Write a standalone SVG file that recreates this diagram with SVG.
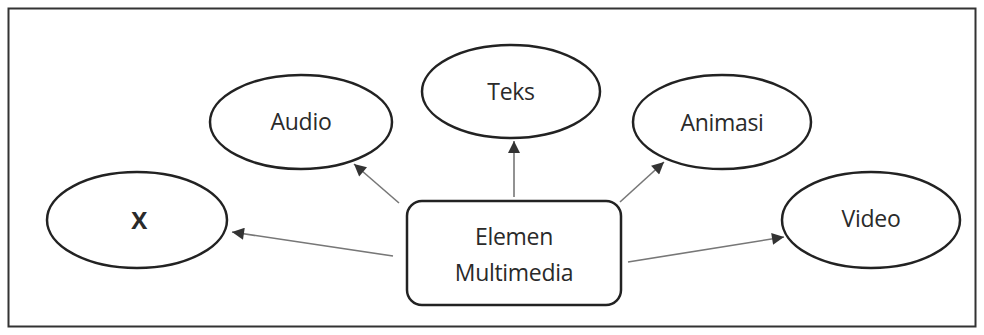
<svg xmlns="http://www.w3.org/2000/svg" width="984" height="335" viewBox="0 0 984 335">
<style>
.node{fill:#fff;stroke:#222;stroke-width:2.5}
.lbl{font-family:"Open Sans","Liberation Sans",sans-serif;font-size:23px;fill:#2a2a2a;text-anchor:middle;letter-spacing:-0.3px}
.conn{stroke:#777;stroke-width:1.6;fill:none;marker-end:url(#ah)}
</style>
<defs>
<marker id="ah" viewBox="0 0 10 10" refX="10" refY="5" markerWidth="14" markerHeight="12" markerUnits="userSpaceOnUse" orient="auto">
<path d="M0,0 L10,5 L0,10 z" fill="#333"/>
</marker>
</defs>
<rect x="0" y="0" width="984" height="335" fill="#fff"/>
<rect x="8.5" y="8.5" width="967" height="318" fill="none" stroke="#333" stroke-width="2"/>
<g id="connectors">
<line class="conn" x1="393" y1="256" x2="232" y2="232"/>
<line class="conn" x1="399" y1="203" x2="354" y2="164"/>
<line class="conn" x1="514" y1="197" x2="514" y2="141"/>
<line class="conn" x1="620" y1="202" x2="664" y2="162"/>
<line class="conn" x1="628" y1="262" x2="784" y2="237"/>
</g>
<g id="center">
<rect class="node" x="407" y="201" width="214" height="104" rx="15"/>
<text class="lbl" x="514" y="245">Elemen</text>
<text class="lbl" x="514" y="281">Multimedia</text>
</g>
<g id="x">
<ellipse class="node" cx="137" cy="220" rx="90" ry="48"/>
<text class="lbl" x="139" y="229" style="font-weight:bold;font-size:24px">X</text>
</g>
<g id="audio">
<ellipse class="node" cx="301" cy="122" rx="91" ry="47"/>
<text class="lbl" x="301" y="130">Audio</text>
</g>
<g id="teks">
<ellipse class="node" cx="511" cy="91.5" rx="89" ry="46.5"/>
<text class="lbl" x="511" y="100">Teks</text>
</g>
<g id="animasi">
<ellipse class="node" cx="722" cy="122" rx="89" ry="47"/>
<text class="lbl" x="722" y="131">Animasi</text>
</g>
<g id="video">
<ellipse class="node" cx="871" cy="220" rx="89" ry="48"/>
<text class="lbl" x="871" y="227">Video</text>
</g>
</svg>
